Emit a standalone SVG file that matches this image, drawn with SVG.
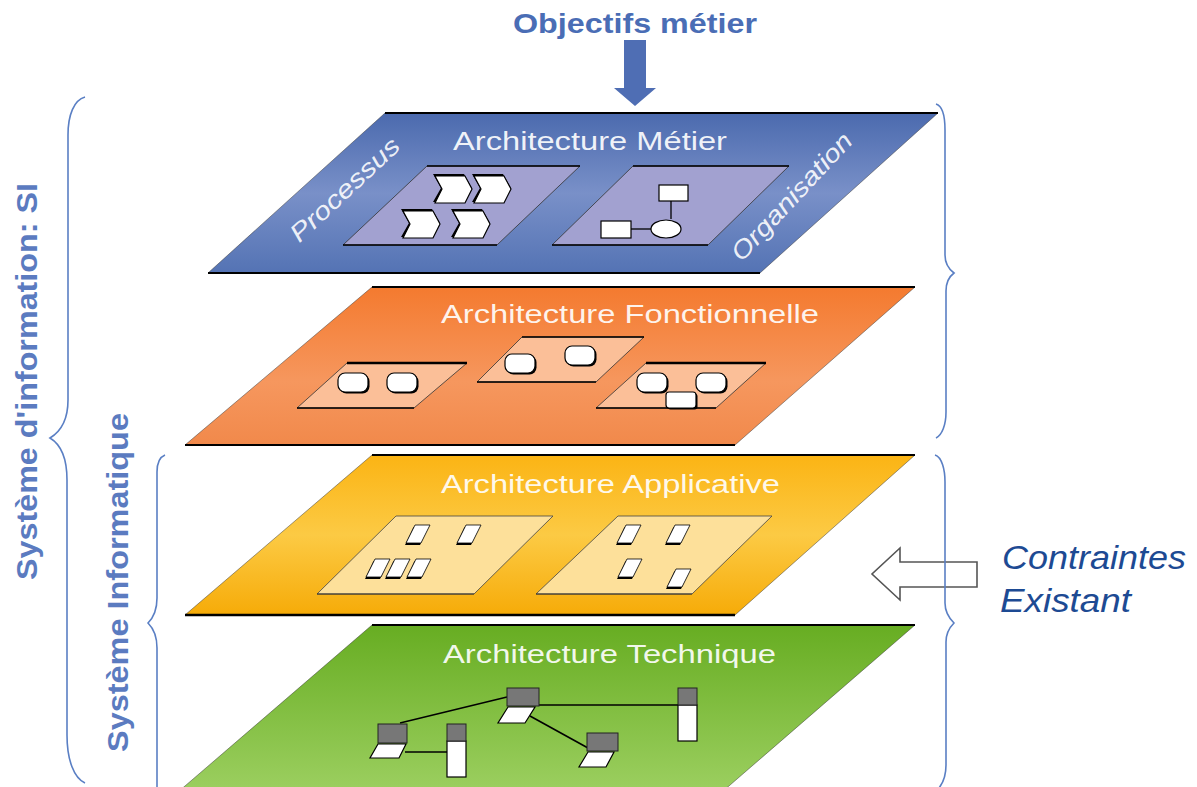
<svg xmlns="http://www.w3.org/2000/svg" width="1197" height="787" viewBox="0 0 1197 787">
<style>
.title{font-family:"Liberation Sans",Arial,sans-serif;font-size:25px;fill:#ffffff;fill-opacity:0.92}
.side{font-family:"Liberation Sans",Arial,sans-serif;font-size:25px;font-style:italic;fill:#ffffff;fill-opacity:0.9}
.vtext{font-family:"Liberation Sans",Arial,sans-serif;font-size:29px;font-weight:bold;fill:#5b7bc0}
.brace{fill:none;stroke:#5a7fc4;stroke-width:1.6}
.edge{stroke:#000;stroke-width:2;fill:none}
.sideedge{stroke:#333;stroke-width:0.8;stroke-opacity:0.6}
.wt{fill:#fff;stroke:#000;stroke-width:1.2}
.blk{fill:#000}
.gray{fill:#777;stroke:#222;stroke-width:1}
.net{stroke:#000;stroke-width:1.5;fill:none}
</style>
<defs>
<linearGradient id="gBlue" x1="0" y1="0" x2="0" y2="1">
<stop offset="0" stop-color="#4b6aae"/><stop offset="0.5" stop-color="#7990c8"/><stop offset="1" stop-color="#5473b4"/>
</linearGradient>
<linearGradient id="gOrange" x1="0" y1="0" x2="0" y2="1">
<stop offset="0" stop-color="#f47a2f"/><stop offset="0.6" stop-color="#f6975e"/><stop offset="1" stop-color="#f1894b"/>
</linearGradient>
<linearGradient id="gYellow" x1="0" y1="0" x2="0" y2="1">
<stop offset="0" stop-color="#fbb414"/><stop offset="0.5" stop-color="#fcca44"/><stop offset="1" stop-color="#f6ab08"/>
</linearGradient>
<linearGradient id="gGreen" x1="0" y1="0" x2="0" y2="1">
<stop offset="0" stop-color="#67ad22"/><stop offset="1" stop-color="#9ccf60"/>
</linearGradient>
<g id="chev">
<polygon class="blk" points="-2,-2 29,-2 37,12 29,26 -2,26 6,12"/>
<polygon class="wt" points="0,0 30,0 37,13 30,27 0,27 7,13"/>
</g>
<g id="rr">
<rect class="blk" x="1.5" y="1.5" width="30" height="19" rx="7"/>
<rect class="wt" x="0" y="0" width="30" height="19" rx="7"/>
</g>
<g id="app">
<polygon class="blk" points="7.5,2 22.5,2 14,20 -1,20"/>
<polygon fill="#fff" stroke="#000" stroke-width="0.8" points="9,0 24,0 15,18 0,18"/>
</g>
</defs>

<!-- Objectifs metier -->
<g id="objectifs">
<text x="635" y="33" text-anchor="middle" textLength="244" lengthAdjust="spacingAndGlyphs" style="font-family:'Liberation Sans',Arial,sans-serif;font-size:27px;font-weight:bold;fill:#4a6db5">Objectifs métier</text>
<polygon points="624,40 646,40 646,88 656,88 635,106 614,88 624,88" fill="#4f6eb4"/>
</g>

<!-- Layer 1: Architecture Metier -->
<g id="layer-metier">
<polygon points="385,113 938,113 760,273 208,273" fill="url(#gBlue)" class="sideedge"/>
<line class="edge" x1="385" y1="113" x2="938" y2="113"/>
<line class="edge" x1="208" y1="273" x2="760" y2="273"/>
<text class="title" x="453" y="150" textLength="274" lengthAdjust="spacingAndGlyphs">Architecture Métier</text>
<text class="side" transform="translate(345,190) rotate(-43)" x="0" y="8" text-anchor="middle" textLength="140" lengthAdjust="spacingAndGlyphs">Processus</text>
<text class="side" transform="translate(792,197) rotate(-47)" x="0" y="8" text-anchor="middle" textLength="165" lengthAdjust="spacingAndGlyphs">Organisation</text>
<g id="panel-processus">
<polygon points="427,166 580,166 497,245 343,245" fill="#a2a1d0" stroke="#333" stroke-width="0.8"/>
<line class="edge" x1="427" y1="166" x2="580" y2="166" style="stroke-width:1.5"/>
<line class="edge" x1="343" y1="245" x2="497" y2="245" style="stroke-width:1.5"/>
<use href="#chev" x="435" y="176"/>
<use href="#chev" x="474" y="176"/>
<use href="#chev" x="403" y="211"/>
<use href="#chev" x="453" y="211"/>
</g>
<g id="panel-organisation">
<polygon points="633,166 789,166 708,245 552,245" fill="#a2a1d0" stroke="#333" stroke-width="0.8"/>
<line class="edge" x1="633" y1="166" x2="789" y2="166" style="stroke-width:1.5"/>
<line class="edge" x1="552" y1="245" x2="708" y2="245" style="stroke-width:1.5"/>
<line x1="671" y1="201" x2="671" y2="219" stroke="#000" stroke-width="1.3"/>
<line x1="631" y1="229" x2="651" y2="229" stroke="#000" stroke-width="1.3"/>
<rect class="wt" x="659" y="185" width="29" height="16"/>
<rect class="wt" x="601" y="221" width="30" height="17"/>
<ellipse class="wt" cx="666" cy="229" rx="15" ry="9"/>
</g>
</g>

<!-- Layer 2: Architecture Fonctionnelle -->
<g id="layer-fonctionnelle">
<polygon points="372,287 915,287 735,445 185,445" fill="url(#gOrange)" class="sideedge"/>
<line class="edge" x1="372" y1="287" x2="915" y2="287"/>
<line class="edge" x1="185" y1="445" x2="735" y2="445"/>
<text class="title" x="441" y="323" textLength="378" lengthAdjust="spacingAndGlyphs">Architecture Fonctionnelle</text>
<g id="panel-f1">
<polygon points="347,363 467,363 414,408 297,408" fill="#fbbf98" stroke="#333" stroke-width="0.8"/>
<line class="edge" x1="347" y1="363" x2="467" y2="363" style="stroke-width:2.4"/>
<line class="edge" x1="297" y1="408" x2="414" y2="408" style="stroke-width:1.5"/>
<use href="#rr" x="338" y="373"/>
<use href="#rr" x="387" y="373"/>
</g>
<g id="panel-f2">
<polygon points="522,337 644,337 596,382 477,382" fill="#fbbf98" stroke="#333" stroke-width="0.8"/>
<line class="edge" x1="522" y1="337" x2="644" y2="337" style="stroke-width:1.5"/>
<line class="edge" x1="477" y1="382" x2="596" y2="382" style="stroke-width:1.5"/>
<use href="#rr" x="505" y="354"/>
<use href="#rr" x="565" y="346"/>
</g>
<g id="panel-f3">
<polygon points="646,363 766,363 716,408 596,408" fill="#fbbf98" stroke="#333" stroke-width="0.8"/>
<line class="edge" x1="646" y1="363" x2="766" y2="363" style="stroke-width:2.4"/>
<line class="edge" x1="596" y1="408" x2="716" y2="408" style="stroke-width:1.5"/>
<use href="#rr" x="637" y="373"/>
<use href="#rr" x="696" y="373"/>
<rect class="blk" x="667.5" y="393.5" width="30" height="16" rx="3"/>
<rect class="wt" x="666" y="392" width="30" height="16" rx="3"/>
</g>
</g>

<!-- Layer 3: Architecture Applicative -->
<g id="layer-applicative">
<polygon points="372,455 915,455 735,615 185,615" fill="url(#gYellow)" class="sideedge"/>
<line class="edge" x1="372" y1="455" x2="915" y2="455"/>
<line class="edge" x1="185" y1="615" x2="735" y2="615" style="stroke-width:2.5"/>
<text class="title" x="441" y="493" textLength="339" lengthAdjust="spacingAndGlyphs">Architecture Applicative</text>
<g id="panel-a1">
<polygon points="396,516 553,516 474,594 317,594" fill="#fde09a" stroke="#444" stroke-width="0.8"/>
<line x1="317" y1="594" x2="474" y2="594" stroke="#333" stroke-width="1.2"/>
<use href="#app" x="406" y="525"/>
<use href="#app" x="457" y="525"/>
<use href="#app" x="366" y="559"/>
<use href="#app" x="386" y="559"/>
<use href="#app" x="407" y="559"/>
</g>
<g id="panel-a2">
<polygon points="618,516 772,516 692,594 536,594" fill="#fde09a" stroke="#444" stroke-width="0.8"/>
<line x1="536" y1="594" x2="692" y2="594" stroke="#333" stroke-width="1.2"/>
<use href="#app" x="617" y="525"/>
<use href="#app" x="666" y="525"/>
<use href="#app" x="618" y="559"/>
<use href="#app" x="667" y="569"/>
</g>
</g>

<!-- Layer 4: Architecture Technique -->
<g id="layer-technique">
<polygon points="372,625 915,625 722,792 178,792" fill="url(#gGreen)" class="sideedge"/>
<line class="edge" x1="372" y1="625" x2="915" y2="625"/>
<text class="title" x="443" y="663" textLength="333" lengthAdjust="spacingAndGlyphs">Architecture Technique</text>
</g>

<!-- Connectors (network links) -->
<g id="connectors">
<line class="net" x1="400" y1="723" x2="507" y2="697"/>
<line class="net" x1="539" y1="705" x2="678" y2="705"/>
<line class="net" x1="405" y1="752" x2="447" y2="752"/>
<line class="net" x1="530" y1="716" x2="588" y2="748"/>
</g>

<g id="server-center">
<rect class="gray" x="507" y="688" width="32" height="18"/>
<polygon class="wt" points="508,707 535,707 525,723 498,723"/>
</g>
<g id="tower-right">
<rect class="wt" x="678" y="705" width="19" height="36"/>
<rect class="gray" x="678" y="688" width="19" height="17"/>
</g>
<g id="laptop-left">
<rect class="gray" x="378" y="724" width="29" height="19"/>
<polygon class="wt" points="378,744 406,744 399,758 370,758"/>
</g>
<g id="tower-left">
<rect class="wt" x="447" y="741" width="19" height="36"/>
<rect class="gray" x="447" y="724" width="19" height="17"/>
</g>
<g id="laptop-right">
<rect class="gray" x="587" y="733" width="31" height="18"/>
<polygon class="wt" points="588,752 614,752 606,767 579,767"/>
</g>

<!-- Contraintes / Existant -->
<g id="arrow-contraintes">
<polygon points="977,562 900,562 900,548 872,574 900,600 900,587 977,587" fill="#fff" stroke="#555" stroke-width="1.6"/>
</g>
<g id="label-contraintes">
<text x="1002" y="569" style="font-family:'Liberation Sans',Arial,sans-serif;font-size:33px;font-style:italic;fill:#1d4a93" textLength="184" lengthAdjust="spacingAndGlyphs">Contraintes</text>
<text x="1000" y="612" style="font-family:'Liberation Sans',Arial,sans-serif;font-size:33px;font-style:italic;fill:#1d4a93" textLength="131" lengthAdjust="spacingAndGlyphs">Existant</text>
</g>

<!-- Braces -->
<g id="braces">
<path class="brace" d="M936,104 C943,106 945,118 945,130 L945,255 C945,265 950,270 954,273 C950,276 946,281 946,291 L946,412 C946,425 942,435 936,438"/>
<path class="brace" d="M935,455 C942,457 945,470 945,482 L945,603 C945,613 950,619 954,623 C950,627 946,632 946,642 L946,765 C946,775 943,783 939,788"/>
<path class="brace" d="M85,97 C74,100 68,115 68,135 L68,400 C68,420 60,432 50,438 C60,444 67,458 67,480 L67,735 C67,760 74,778 85,783"/>
<path class="brace" d="M165,455 C160,457 157,462 157,472 L157,598 C157,610 153,618 148,623 C153,628 157,636 157,648 L157,790"/>
</g>

<g id="label-si">
<text class="vtext" transform="translate(37,580) rotate(-90)" x="0" y="0" textLength="397" lengthAdjust="spacingAndGlyphs">Système d'information: SI</text>
</g>
<g id="label-informatique">
<text class="vtext" transform="translate(128,752) rotate(-90)" x="0" y="0" textLength="339" lengthAdjust="spacingAndGlyphs">Système Informatique</text>
</g>
</svg>
